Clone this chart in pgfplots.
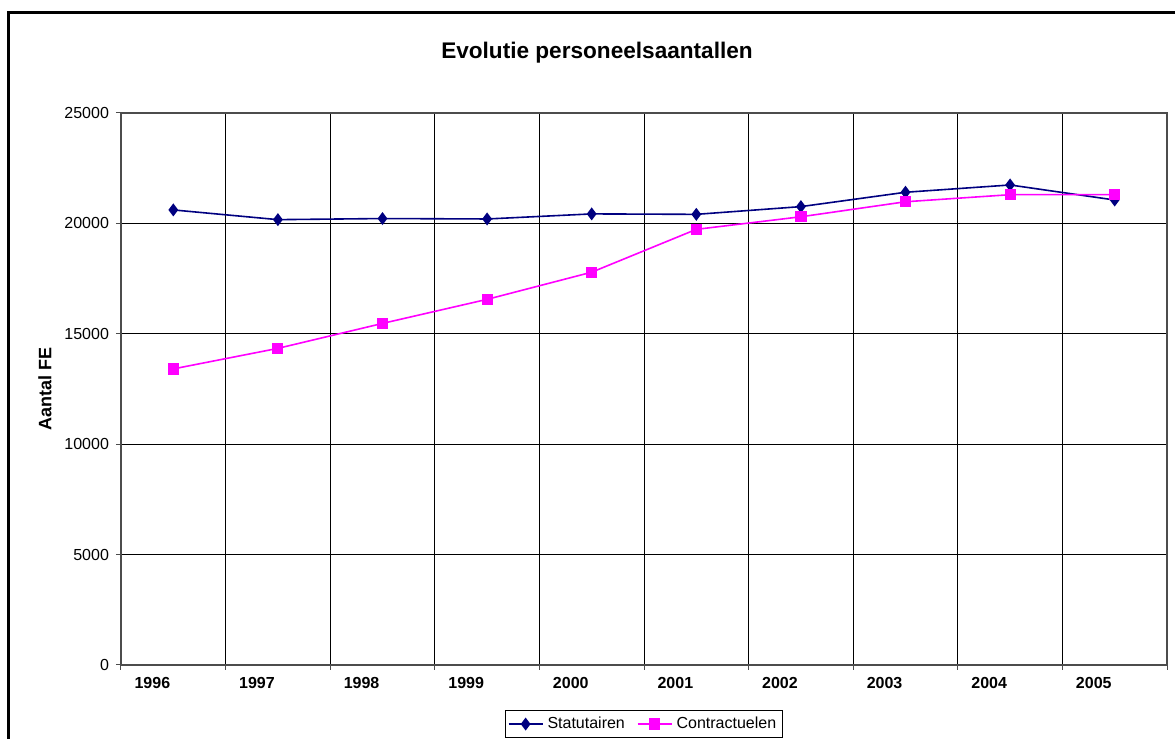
\documentclass[border=0pt]{standalone}
\usepackage{pgfplots}
\pgfplotsset{compat=1.18}
\usepackage{fontspec}
\setmainfont{Liberation Sans}
\definecolor{navy}{HTML}{000080}
\definecolor{mag}{HTML}{FF00FF}
\begin{document}
\begin{tikzpicture}
\useasboundingbox (0,0) rectangle (587.5pt,369.5pt);
\draw[line width=1.5pt] (4.25pt,0) -- (4.25pt,363pt) -- (590pt,363pt);
\node[font=\bfseries\fontsize{11.3}{13.5}\selectfont] at (298.5pt,343pt) {Evolutie personeelsaantallen};
\begin{axis}[
  at={(60.5pt,37pt)}, anchor=south west, scale only axis,
  width=523pt, height=276pt,
  xmin=0, xmax=10, ymin=0, ymax=25000,
  xtick={0,1,2,3,4,5,6,7,8,9,10}, xticklabels={},
  extra x ticks={0.3,1.3,2.3,3.3,4.3,5.3,6.3,7.3,8.3,9.3},
  extra x tick labels={1996,1997,1998,1999,2000,2001,2002,2003,2004,2005},
  extra x tick style={major tick length=0pt, grid=none,
    tick label style={font=\bfseries\fontsize{8}{9.6}\selectfont, yshift=-2.5pt}},
  ytick={0,5000,10000,15000,20000,25000},
  scaled y ticks=false,
  /pgf/number format/.cd, set thousands separator={}, assume math mode=true,
  /pgfplots/.cd,
  yticklabel style={font=\fontsize{8}{9.6}\selectfont},
  grid=major, major grid style={black, line width=0.5pt},
  axis line style={black!70, line width=0.75pt},
  tick align=outside, major tick length=2.5pt,
  tick style={black!70, line width=0.5pt},
  tick pos=left,
  ylabel={Aantal FE},
  ylabel style={font=\bfseries\fontsize{9}{11}\selectfont, at={(axis description cs:-0.0727,0.5)}, anchor=center},
  legend columns=2,
  legend style={at={(0.5,-0.107)}, anchor=center, draw=black, line width=0.5pt,
    font=\fontsize{8}{9.6}\selectfont, inner sep=1pt,
    /tikz/every even column/.append style={column sep=4pt}},
  legend cell align=left,
]
\addplot[navy, line width=0.8pt, mark=diamond*, mark size=2.6pt, mark options={solid, fill=navy}]
coordinates {(0.5,20610) (1.5,20170) (2.5,20220) (3.5,20200) (4.5,20430) (5.5,20410) (6.5,20760) (7.5,21410) (8.5,21740) (9.5,21060)};
\addlegendentry{Statutairen}
\addplot[mag, line width=0.8pt, mark=square*, mark size=2.4pt, mark options={solid, fill=mag}]
coordinates {(0.5,13410) (1.5,14340) (2.5,15470) (3.5,16560) (4.5,17790) (5.5,19730) (6.5,20300) (7.5,20980) (8.5,21300) (9.5,21300)};
\addlegendentry{Contractuelen}
\end{axis}
\end{tikzpicture}
\end{document}
